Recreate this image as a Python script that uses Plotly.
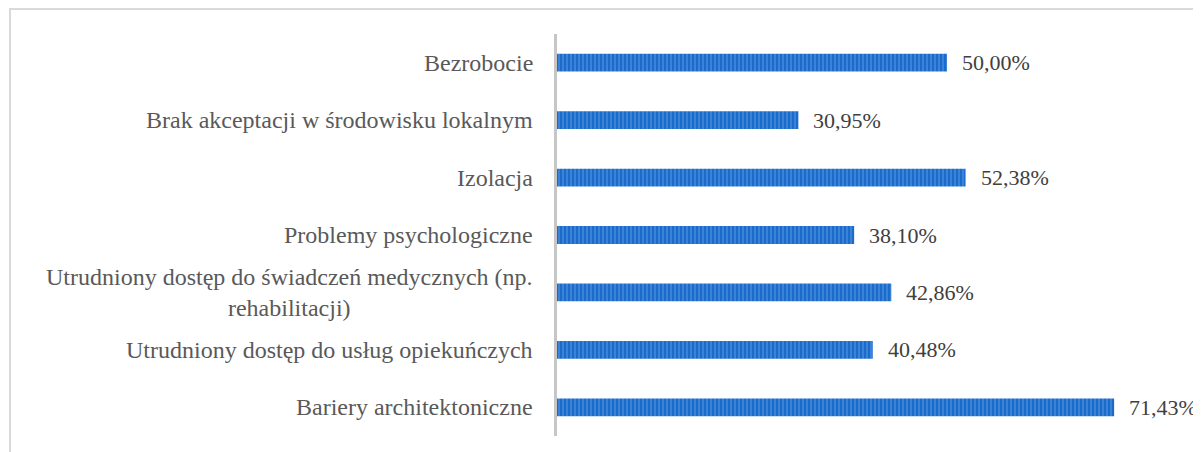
import plotly.graph_objects as go

categories = [
    "Bariery architektoniczne",
    "Utrudniony dostęp do usług opiekuńczych",
    "Utrudniony dostęp do świadczeń medycznych (np.<br>rehabilitacji)",
    "Problemy psychologiczne",
    "Izolacja",
    "Brak akceptacji w środowisku lokalnym",
    "Bezrobocie",
]
values = [71.43, 40.48, 42.86, 38.10, 52.38, 30.95, 50.00]
value_labels = ["71,43%", "40,48%", "42,86%", "38,10%", "52,38%", "30,95%", "50,00%"]

# page body has an 8px margin, so figure coords = screen coords - 8
OFF = 8
W, H = 1201 - OFF, 452 - OFF
ML = 557 - OFF
MR = W - (1181 - OFF)
MT = 34 - OFF
MB = H - (436 - OFF)
pw, ph = W - ML - MR, H - MT - MB

FONT = "Liberation Serif"

fig = go.Figure()
fig.add_trace(go.Bar(
    x=values,
    y=list(range(len(categories))),
    orientation="h",
    width=0.31,
    marker=dict(
        color="#1b6bcb",
        line=dict(width=0),
        pattern=dict(shape="|", size=4, solidity=0.4, fgcolor="#6aa8ea", bgcolor="#1b6bcb"),
    ),
    hoverinfo="skip",
    showlegend=False,
))

annotations = []
for i, (c, v, lab) in enumerate(zip(categories, values, value_labels)):
    annotations.append(dict(
        x=0, xref="paper", y=i, yref="y", text=c, showarrow=False,
        xanchor="right", yanchor="middle", xshift=-22, align="center",
        font=dict(family=FONT, size=24, color="#595959"),
    ))
    annotations.append(dict(
        x=v, xref="x", y=i, yref="y", text=lab, showarrow=False,
        xanchor="left", yanchor="middle", xshift=13,
        font=dict(family=FONT, size=22, color="#404040"),
    ))

fig.update_layout(
    width=W, height=H,
    margin=dict(l=ML, r=MR, t=MT, b=MB, pad=0),
    paper_bgcolor="white", plot_bgcolor="white",
    font=dict(family=FONT),
    xaxis=dict(range=[0, 80], visible=False, fixedrange=True),
    yaxis=dict(range=[-0.5, len(categories) - 0.5], showticklabels=False, showgrid=False,
               zeroline=False, showline=True, linecolor="#c6c6c6", linewidth=3,
               ticks="", fixedrange=True),
    annotations=annotations,
    shapes=[dict(
        type="rect", xref="paper", yref="paper",
        x0=(10 - OFF - ML) / pw, x1=1.2,
        y0=-0.3, y1=(H - MB - (9 - OFF)) / ph,
        line=dict(color="#d9d9d9", width=2), fillcolor="rgba(0,0,0,0)", layer="below",
    )],
)

fig.write_html("out.html")
